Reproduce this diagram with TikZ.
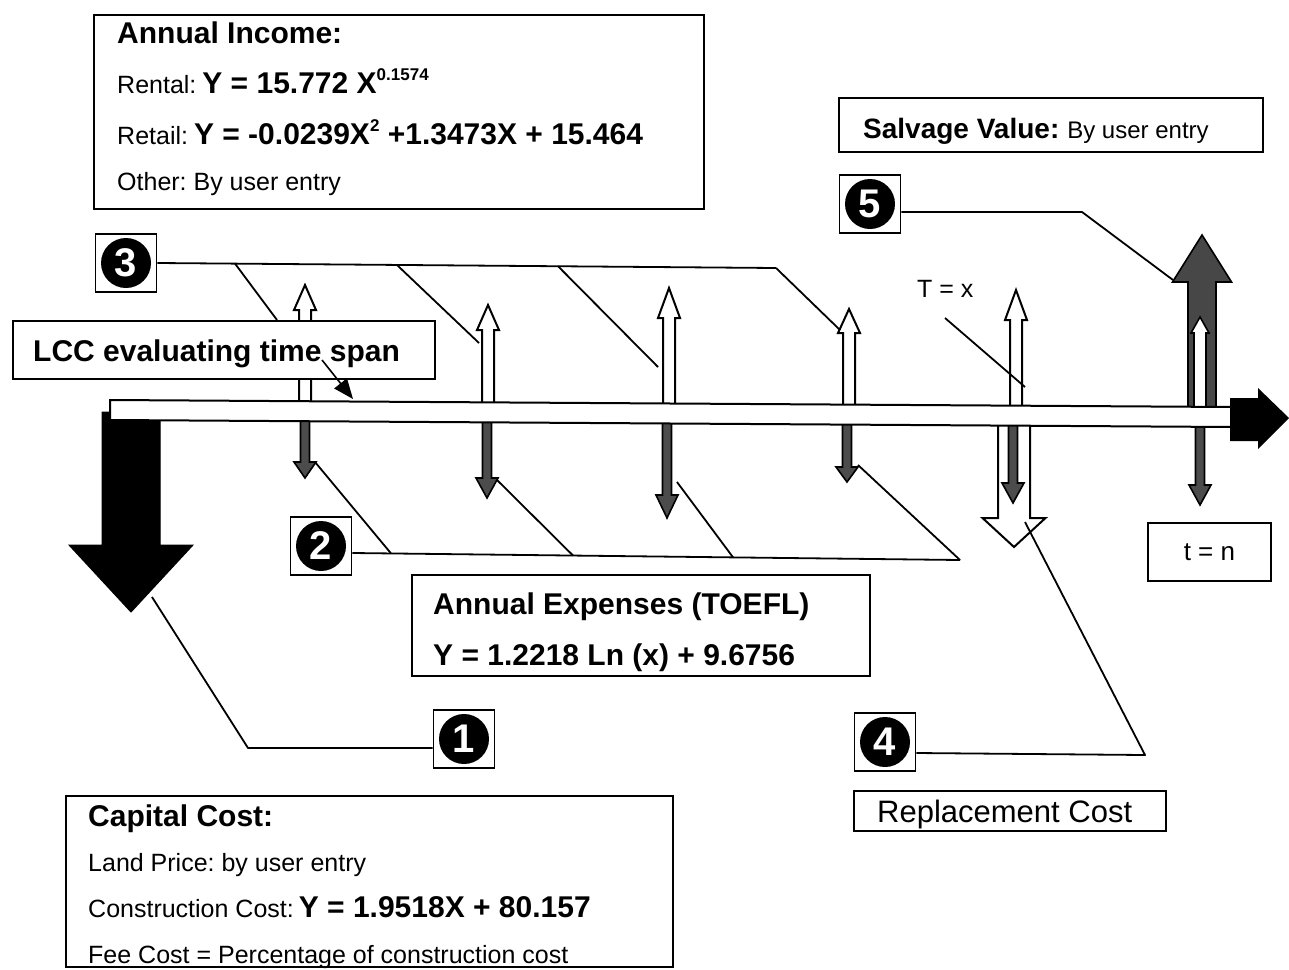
\documentclass[tikz,border=0pt]{standalone}
\usepackage{fontspec}
\setmainfont{Liberation Sans}
\usetikzlibrary{arrows.meta}
\frenchspacing
\newcommand{\fs}[1]{\fontsize{#1}{#1}\selectfont}
% block arrow: [style]{x}{shaft half width}{head half width}{tip y}{head base y}{base y}
\newcommand{\blockarrow}[7][]{%
  \filldraw[#1] ({#2-#3},#7) -- ({#2-#3},#6) -- ({#2-#4},#6) -- (#2,#5) -- ({#2+#4},#6) -- ({#2+#3},#6) -- ({#2+#3},#7) -- cycle;}
\tikzset{
  box/.style={draw, line width=1.8pt, fill=white, inner sep=0pt, anchor=north west},
  leader/.style={line width=1.8pt, line join=round},
  hollow/.style={draw=black, fill=white, line width=2pt, line join=miter},
  grayarr/.style={draw=black, fill=black!70, line width=1.6pt, line join=miter},
  numbox/.style={draw, line width=1.8pt, fill=white, minimum width=61pt, minimum height=58pt, inner sep=0pt},
  numcirc/.style={circle, fill=black, minimum size=50pt, inner sep=0pt, text=white, font=\fs{40}\bfseries},
  txt/.style={anchor=base west, inner sep=0pt},
}
\begin{document}
\begin{tikzpicture}[x=1pt,y=-1pt]
\useasboundingbox (0,0) rectangle (1289,969);
\fill[white] (0,0) rectangle (1289,969);

% ---------- arrows below the time bar ----------
\blockarrow[fill=black, draw=black, line width=1pt]{131}{29}{62}{612}{545}{412}
\blockarrow[hollow]{1014}{16}{31.5}{547}{518}{414}
\blockarrow[grayarr]{305}{4.5}{11}{478}{462}{410}
\blockarrow[grayarr]{487}{4.5}{11}{498}{478}{412}
\blockarrow[grayarr]{667}{4.5}{11}{518}{495}{413}
\blockarrow[grayarr]{847}{4.5}{11}{482}{467}{414}
\blockarrow[grayarr]{1013}{4.5}{11}{503}{483}{415}
\blockarrow[grayarr]{1200}{4.5}{11}{505}{485}{416}

% ---------- arrows above the time bar ----------
\blockarrow[hollow]{305}{6}{11}{285}{310}{410}
\blockarrow[hollow]{488}{6}{11}{305}{330}{412}
\blockarrow[hollow]{669}{6}{11}{288}{318}{413}
\blockarrow[hollow]{849}{6}{11}{309}{333}{414}
\blockarrow[hollow]{1016}{6}{11}{290}{320}{415}
\blockarrow[grayarr, fill=black!72]{1202}{14}{29.5}{235}{282}{416}
\blockarrow[hollow, line width=1.6pt]{1200}{6}{9}{317}{333}{410}

% ---------- time bar ----------
\filldraw[fill=white, draw=black, line width=2pt] (110,400) -- (1232,407) -- (1232,427) -- (110,420) -- cycle;
\fill[black] (1230,398) -- (1258,398) -- (1258,388) -- (1289,418) -- (1258,449) -- (1258,441) -- (1230,441) -- cycle;

% ---------- boxes ----------
\node[box, minimum width=610pt, minimum height=194pt] (income) at (93,14) {};
\node[box, minimum width=424pt, minimum height=54pt] (salvage) at (838,97) {};
\node[box, minimum width=422pt, minimum height=58pt] (lcc) at (12,320) {};
\node[box, minimum width=123pt, minimum height=58pt] (tn) at (1147,522) {};
\node[box, minimum width=458pt, minimum height=101pt] (expenses) at (411,574) {};
\node[box, minimum width=312pt, minimum height=40pt] (replace) at (853,790) {};
\node[box, minimum width=607pt, minimum height=171pt] (capital) at (65,795) {};

% ---------- numbered markers ----------
\node[numbox] (n1) at (464,739) {};
\node[numcirc] (c1) at (n1) {1};
\node[numbox] (n2) at (321,546) {};
\node[numcirc] (c2) at (n2) {2};
\node[numbox] (n3) at (126,263) {};
\node[numcirc] (c3) at (n3) {3};
\node[numbox] (n4) at (885,742) {};
\node[numcirc] (c4) at (n4) {4};
\node[numbox] (n5) at (870,204) {};
\node[numcirc] (c5) at (n5) {5};

% ---------- leaders ----------
% 3: annual income
\coordinate (l3a) at (235,263.6);
\coordinate (l3b) at (397,265);
\coordinate (l3c) at (558,266.2);
\coordinate (l3d) at (776,268);
\draw[leader] (n3.east) -- (l3d);
\draw[leader] (l3a) -- (277,320);
\draw[leader] (l3b) -- (479,343);
\draw[leader] (l3c) -- (658,367);
\draw[leader] (l3d) -- (840,330);
% 2: annual expenses
\coordinate (l2a) at (391,553.4);
\coordinate (l2b) at (573,555.5);
\coordinate (l2c) at (733,557.3);
\coordinate (l2d) at (960,560);
\draw[leader] ([yshift=-7pt]n2.east) -- (l2d);
\draw[leader] (l2a) -- (315,462);
\draw[leader] (l2b) -- (497,480);
\draw[leader] (l2c) -- (677,482);
\draw[leader] (l2d) -- (858,465);
% 1: capital cost
\draw[leader] ([yshift=-9pt]n1.west) -- (248,748) -- (152,597);
% 4: replacement cost
\draw[leader] ([yshift=-11pt]n4.east) -- (1145,755) -- (1025,522);
% 5: salvage value
\draw[leader] ([yshift=-8pt]n5.east) -- (1082,212) -- (1173,280);
% T = x
\draw[leader] (945,318) -- (1025,387);
% LCC pointer
\draw[line width=1.6pt, -{Triangle[length=20pt,width=16pt]}] (322,360) -- (353,399);

% ---------- texts ----------
\node[txt, font=\fs{30}\bfseries] (incT) at (117,43) {Annual Income:};
\node[txt] (incR) at (117,93) {{\fs{25}Rental:}\hspace{6pt}{\fs{30}\bfseries Y = 15.772 X}\raisebox{13pt}{\fs{17}\bfseries 0.1574}};
\node[txt] (incS) at (117,144) {{\fs{25}Retail:}\hspace{6pt}{\fs{30}\bfseries Y = -0.0239X}\raisebox{13pt}{\fs{17}\bfseries 2}{\fs{30}\bfseries\ +1.3473X + 15.464}};
\node[txt, font=\fs{25}] (incO) at (117,190) {Other: By user entry};

\node[txt] (salT) at (863,138) {{\fs{28}\bfseries Salvage Value:}\hspace{8pt}{\fs{24}By user entry}};
\node[txt, font=\fs{30}\bfseries] (lccT) at (33,361) {LCC evaluating time span};
\node[txt, font=\fs{25}] (tx) at (917,297) {T = x};
\node[font=\fs{26}, inner sep=0pt] (tnT) at (tn.center) {t = n};
\node[txt, font=\fs{30}\bfseries] (expT) at (433,614) {Annual Expenses (TOEFL)};
\node[txt, font=\fs{30}\bfseries] (expE) at (433,665) {Y = 1.2218 Ln (x) + 9.6756};
\node[txt, font=\fs{31}] (repT) at (877,822) {Replacement Cost};

\node[txt, font=\fs{30}\bfseries] (capT) at (88,826) {Capital Cost:};
\node[txt, font=\fs{25}] (capL) at (88,871) {Land Price: by user entry};
\node[txt] (capC) at (88,917) {{\fs{25}Construction Cost:}\hspace{5pt}{\fs{30}\bfseries Y = 1.9518X + 80.157}};
\node[txt, font=\fs{25}] (capF) at (88,963) {Fee Cost = Percentage of construction cost};
\end{tikzpicture}
\end{document}
